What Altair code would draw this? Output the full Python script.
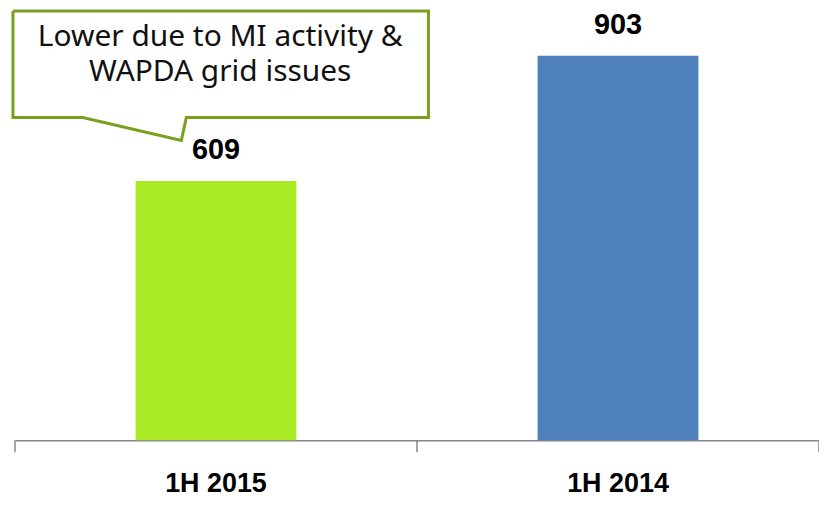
import altair as alt
import pandas as pd

categories = ["1H 2015", "1H 2014"]
values = [609, 903]
bar_colors = ["#A9EA24", "#4F81BD"]

callout_text = ["Lower due to MI activity &\nWAPDA grid issues"]
# callout outline (pixel geometry, relative to plot origin)
callout_px = [-2, 415, 415, 172, 167, 68, -2, -2]
callout_py = [-3.5, -3.5, 103.5, 103.5, 126.5, 103.5, 103.5, -3.5]

W, H = 807, 427.5

bars_df = pd.DataFrame({"cat": categories, "val": values, "color": bar_colors})
callout_df = pd.DataFrame({"px": callout_px, "py": callout_py, "o": list(range(len(callout_px)))})
text_df = pd.DataFrame({"t": callout_text})

xscale = alt.Scale(domain=categories, paddingInner=0, paddingOuter=0)
yscale = alt.Scale(domain=[0, 1000])

bars = alt.Chart(bars_df).mark_bar(width=alt.RelativeBandSize(0.4)).encode(
    x=alt.X("cat:N", scale=xscale, sort=categories, title=None,
            axis=alt.Axis(labelAngle=0, ticks=False, domainColor="#868686", domainWidth=1.5,
                          labelFont="Liberation Sans", labelFontWeight="bold", labelFontSize=27,
                          labelColor="black", labelPadding=30, labelBaseline="top", grid=False)),
    y=alt.Y("val:Q", scale=yscale, axis=None),
    color=alt.Color("color:N", scale=None),
)

labels = alt.Chart(bars_df).mark_text(
    font="Liberation Sans", fontWeight="bold", fontSize=29, color="black",
    baseline="alphabetic", dy=-22
).encode(
    x=alt.X("cat:N", scale=xscale, sort=categories, axis=None),
    y=alt.Y("val:Q", scale=yscale, axis=None),
    text=alt.Text("val:Q"),
)

ticks = alt.Chart(bars_df).mark_rule(color="#868686", strokeWidth=1.5).encode(
    x=alt.X("cat:N", scale=xscale, sort=categories, bandPosition=0, axis=None),
    y=alt.value(H), y2=alt.value(H + 12),
)
end_tick = alt.Chart(bars_df).transform_filter(
    alt.datum.cat == categories[-1]
).mark_rule(color="#868686", strokeWidth=1.5).encode(
    x=alt.X("cat:N", scale=xscale, sort=categories, bandPosition=1, axis=None),
    y=alt.value(H), y2=alt.value(H + 12),
)

callout = alt.Chart(callout_df).mark_line(
    color="#77A01E", strokeWidth=3, strokeJoin="miter", fill="white", filled=False
).encode(
    x=alt.X("px:Q", scale=None, axis=None),
    y=alt.Y("py:Q", scale=None, axis=None),
    order="o:Q",
)

ctext = alt.Chart(text_df).mark_text(
    font="Noto Sans", fontSize=30, color="#111111", align="center",
    baseline="alphabetic", lineBreak="\n", lineHeight=35
).encode(
    x=alt.value(206), y=alt.value(31.5), text="t:N"
)

chart = alt.layer(callout, ctext, bars, labels, ticks, end_tick).resolve_scale(
    x="independent", y="independent"
).properties(
    width=W, height=H,
    autosize=alt.AutoSizeParams(type="none"),
    padding={"left": 7, "top": 5.5, "right": 0, "bottom": 60},
).configure_view(stroke=None)

chart.save("out.html", embed_options={"renderer": "svg", "actions": False})
